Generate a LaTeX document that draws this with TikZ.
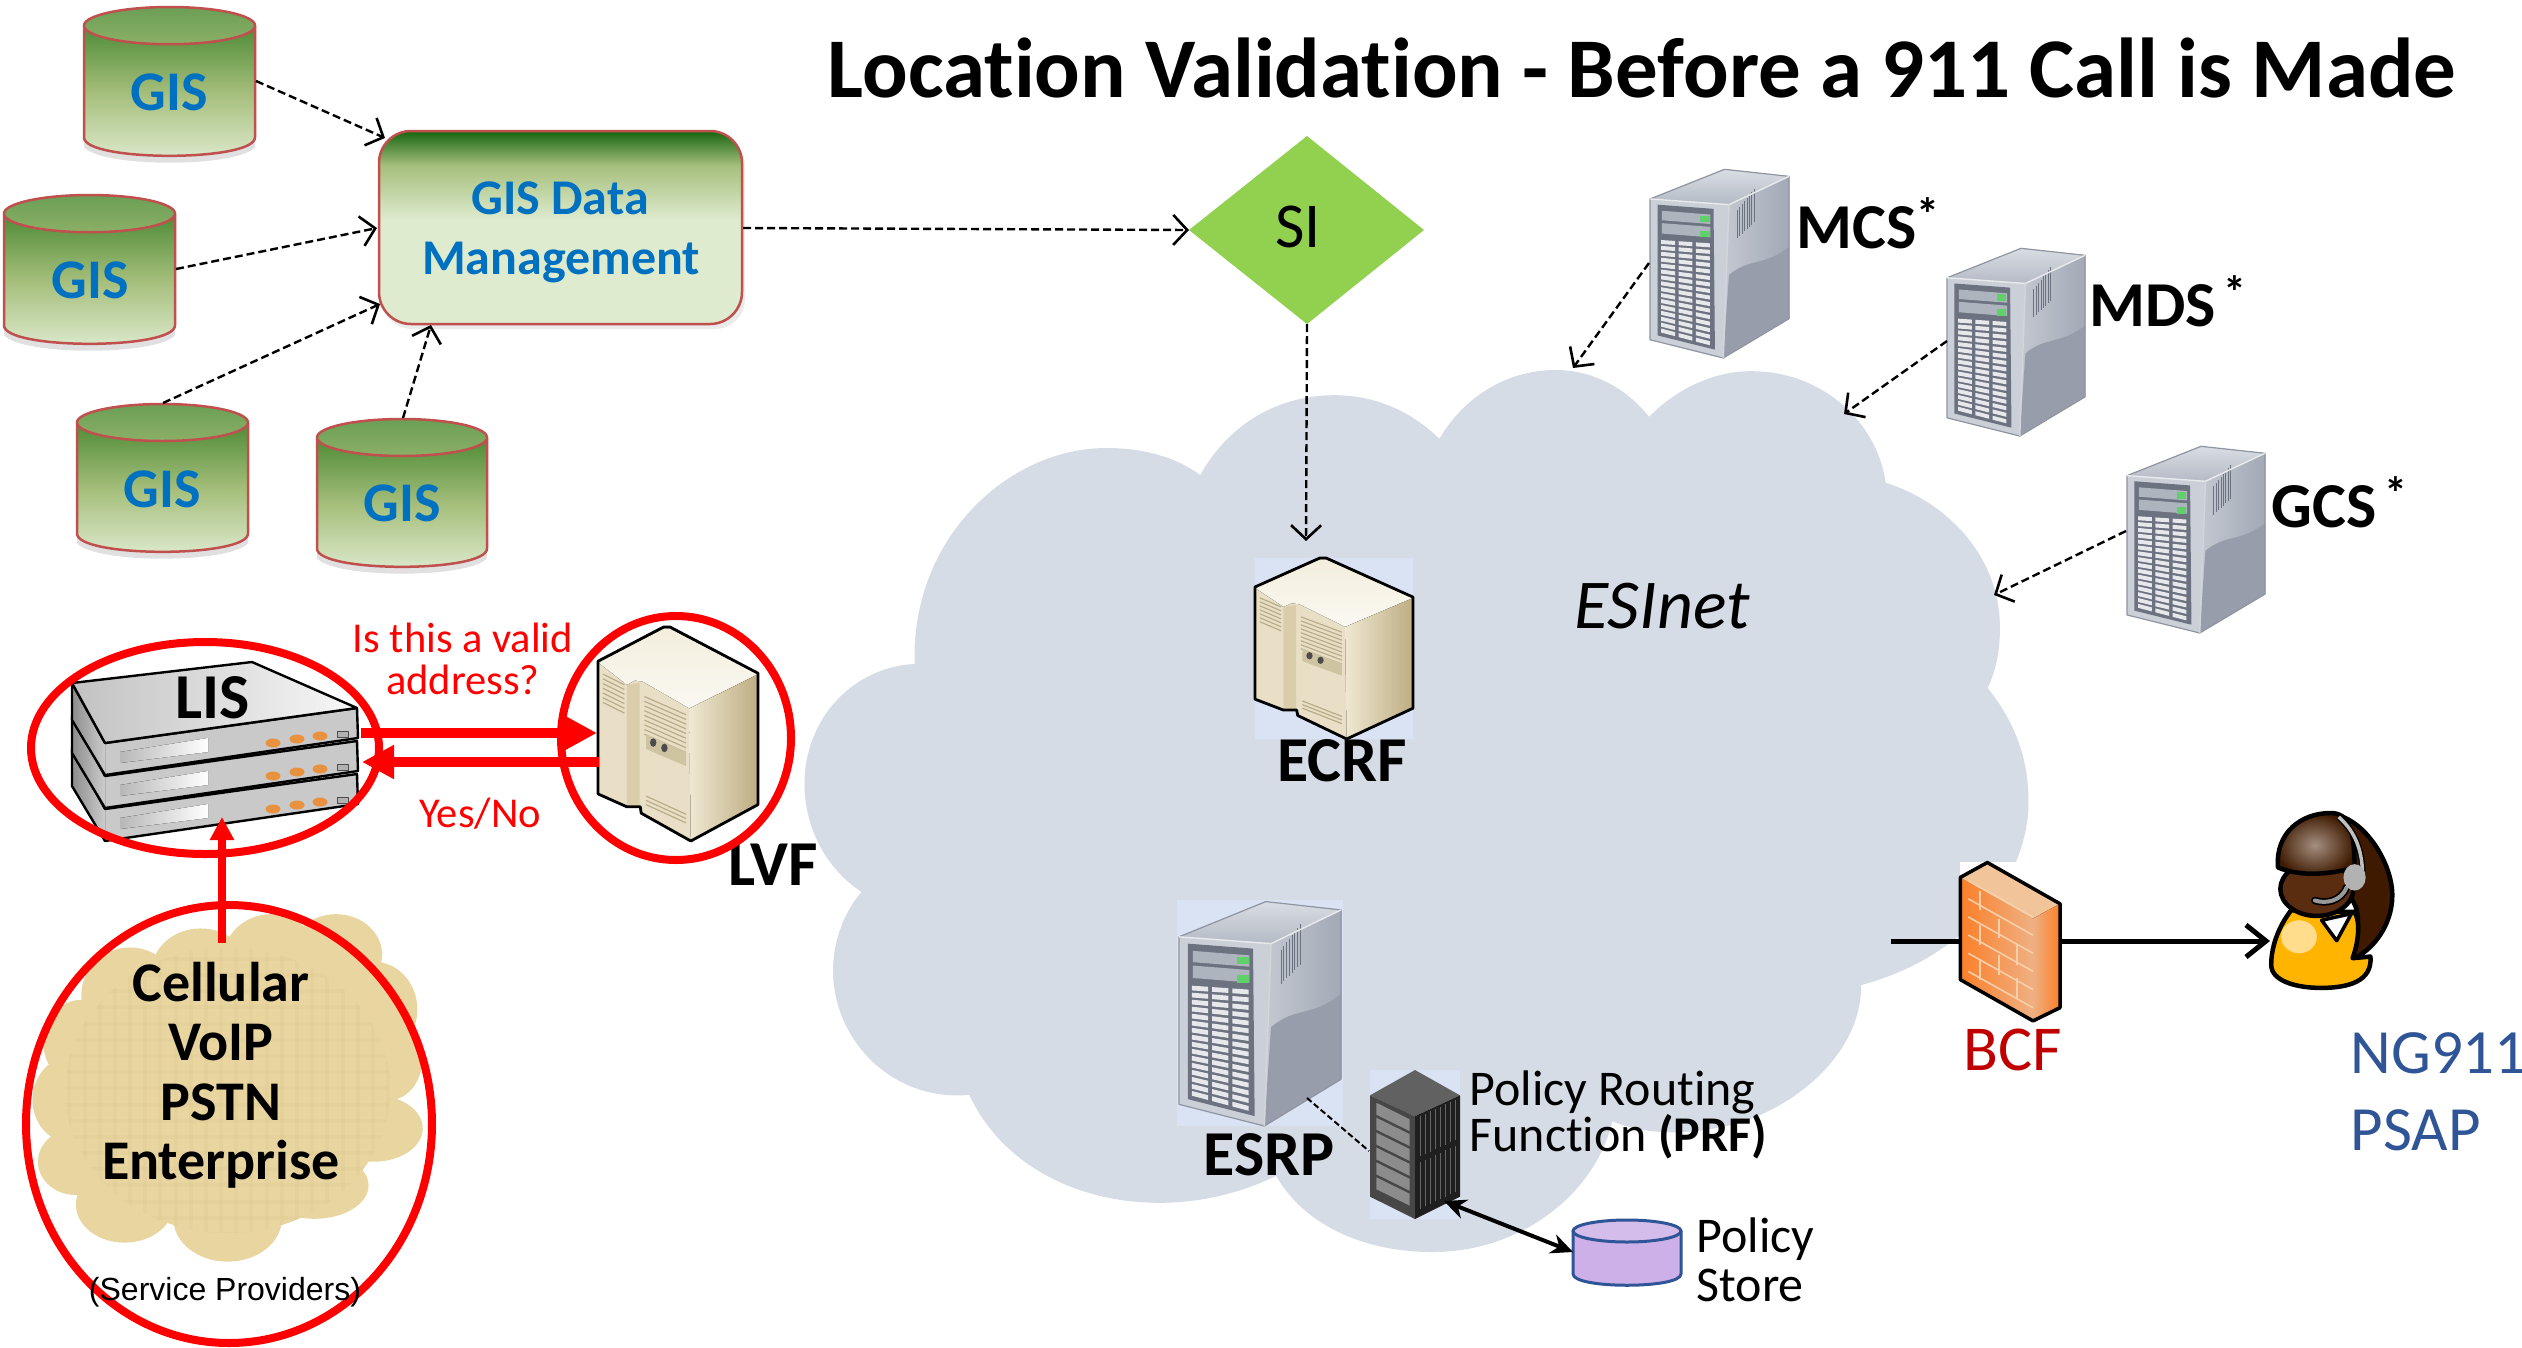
\documentclass[tikz,border=0pt]{standalone}
\usepackage{fontspec}
\setmainfont{Carlito}[Ligatures=CommonOff]
\newfontfamily\arialfont{Liberation Sans}
\usetikzlibrary{arrows.meta,calc}
\definecolor{cloudgrey}{HTML}{D6DCE5}
\definecolor{panelblue}{HTML}{DAE3F3}
\definecolor{gisred}{HTML}{C0504D}
\definecolor{gisblue}{HTML}{0070C0}
\definecolor{gisA}{HTML}{DEEBCF}
\definecolor{gisB}{HTML}{A6BF7C}
\definecolor{gisC}{HTML}{4E8B36}
\definecolor{gisD}{HTML}{176510}
\definecolor{navyblue}{HTML}{2F5597}
\definecolor{bcfred}{HTML}{C00000}
\definecolor{leafgreen}{HTML}{92D050}
\definecolor{parch}{HTML}{E8D5A0}
\definecolor{parchdark}{HTML}{B89A5A}
\definecolor{purplefill}{HTML}{CDB0E8}
\definecolor{twrTopA}{HTML}{D9DDE3}
\definecolor{twrTopB}{HTML}{B4BAC5}
\definecolor{twrSideA}{HTML}{C3C8D1}
\definecolor{twrSideB}{HTML}{A3A9B5}
\definecolor{twrLow}{HTML}{979DAA}
\definecolor{twrFront}{HTML}{CBD0D8}
\definecolor{twrFrame}{HTML}{6C7280}
\definecolor{twrSlot}{HTML}{AEB4BE}
\definecolor{twrCell}{HTML}{E6E8EC}
\definecolor{twrEdge}{HTML}{8F95A1}
\definecolor{twrLed}{HTML}{5FD06A}
\definecolor{begTop}{HTML}{F3EEDD}
\definecolor{begFront}{HTML}{E8DFC6}
\definecolor{begBand}{HTML}{D9CDAA}
\definecolor{begSideA}{HTML}{EFE8D3}
\definecolor{begSideB}{HTML}{BEAD82}
\definecolor{begSlat}{HTML}{B9AC88}
\definecolor{begPlate}{HTML}{CFC4A2}
\definecolor{hairdark}{HTML}{3F1A00}
\definecolor{hairlite}{HTML}{A58F80}
\definecolor{faceskin}{HTML}{5A2D10}
\definecolor{shirt}{HTML}{FFB400}
\definecolor{fwA}{HTML}{FB7F28}
\definecolor{fwB}{HTML}{EFB083}
\definecolor{fwTop}{HTML}{F2C49A}
\definecolor{fwBrick}{HTML}{F8CFA8}
\definecolor{lisOrange}{HTML}{E8923F}
\pgfdeclareverticalshading{gisbody}{100bp}{color(0bp)=(gisA); color(25bp)=(gisA); color(50bp)=(gisB); color(75bp)=(gisC); color(100bp)=(gisC)}
\pgfdeclareverticalshading{gisbox}{100bp}{color(0bp)=(gisA); color(52bp)=(gisA); color(66bp)=(gisB); color(75bp)=(gisD); color(100bp)=(gisD)}
\newcommand\fs[1]{\fontsize{#1}{#1}\selectfont}
\newcommand\starmark{\raisebox{.28em}{\fs{46}\bfseries *}}
\tikzset{
  dashlink/.style={draw=black,line width=2.4pt,dash pattern=on 8pt off 4pt,-{Straight Barb[length=14pt,width=30pt,line width=2.6pt]}},
  thinlink/.style={draw=black,line width=2pt,dash pattern=on 6pt off 3pt},
  redlink/.style={draw=red,line width=10pt,-{Triangle[length=32pt,width=32pt]}},
  redring/.style={draw=red,line width=8pt},
  title/.style={font=\bfseries\fs{85},anchor=base},
  gislabel/.style={font=\bfseries\fs{56},text=gisblue,anchor=base},
  boxlabel/.style={font=\bfseries\fs{50},text=gisblue,anchor=base},
  biglabel/.style={font=\bfseries\fs{64},text=black,anchor=base},
  cloudlabel/.style={font=\bfseries\fs{56},text=black,anchor=base},
  redlabel/.style={font=\fs{42.5},text=red,anchor=base},
  plainlabel/.style={font=\fs{50},text=black,anchor=base west},
  bluelabel/.style={font=\fs{63},text=navyblue,anchor=base west},
}
\newcommand\gisCyl[4]{%
 \begin{scope}[shift={(#1,#2)},x=#3pt,y=-#4pt]
  \fill[black,opacity=.12] (0,.90) .. controls (.1,1.04) and (.9,1.04) .. (1,.90) -- (1,.94) .. controls (.9,1.08) and (.1,1.08) .. (0,.94) -- cycle;
  \path[shade,shading=gisbody] (0,.125) .. controls (0,.25) and (1,.25) .. (1,.125) -- (1,.875) .. controls (1,1.04) and (0,1.04) .. (0,.875) -- cycle;
  \draw[gisred,line width=2.5pt] (0,.125) -- (0,.875) .. controls (0,1.04) and (1,1.04) .. (1,.875) -- (1,.125);
  \draw[gisred,line width=2.5pt,top color=gisC!80!gisA,bottom color=gisB!70!gisC] (.5,.125) ellipse [x radius=#3pt/2,y radius=#4pt/8];
 \end{scope}}
\newcommand\towerIcon[4]{%
 \begin{scope}[shift={(#1,#2)},x=#3pt,y=-#4pt]
  \fill[top color=twrTopA,bottom color=twrTopB] (0,.163) -- (.536,.007) -- (1,.044) -- (.568,.193) -- cycle;
  \fill[left color=twrSideA,right color=twrSideB] (.568,.193) -- (1,.044) -- (1,.793) -- (.527,1) -- cycle;
  \fill[twrLow] (.568,.563) .. controls (.72,.47) and (.82,.52) .. (1,.415) -- (1,.793) -- (.527,1) -- cycle;
  \fill[twrFront] (0,.163) -- (.568,.193) -- (.527,1) -- (0,.904) -- cycle;
  \fill[twrFrame] (.054,.193) -- (.457,.215) -- (.467,.956) -- (.054,.881) -- cycle;
  \fill[twrSlot] (.085,.225) -- (.435,.245) -- (.435,.295) -- (.085,.275) -- cycle;
  \fill[twrSlot] (.085,.29) -- (.435,.31) -- (.435,.365) -- (.085,.345) -- cycle;
  \fill[twrLed] (.36,.25) rectangle (.43,.285);
  \fill[twrLed] (.36,.33) rectangle (.43,.365);
  \foreach \r in {0,...,15}{\foreach \c in {0,1,2}{%
    \pgfmathsetmacro\xa{.08+.125*\c}\pgfmathsetmacro\xb{\xa+.1}%
    \pgfmathsetmacro\ya{.375+.05*\xa+\r*(.485+.15*\xa)/16}%
    \pgfmathsetmacro\yb{.375+.05*\xb+\r*(.485+.15*\xb)/16}%
    \pgfmathsetmacro\dy{.021}%
    \fill[twrCell] (\xa,\ya) -- (\xb,\yb) -- (\xb,\yb+\dy) -- (\xa,\ya+\dy) -- cycle;}}
  \foreach \v in {0,...,7}{\draw[twrFrame,line width=1pt] (.63+.017*\v,.2-.016*\v+.02) -- (.63+.017*\v,.37-.012*\v);}
  \draw[twrEdge,line width=1.2pt,line join=round] (0,.163) -- (.536,.007) -- (1,.044) -- (1,.793) -- (.527,1) -- (0,.904) -- cycle;
  \draw[white!80!twrEdge,line width=1.4pt] (0,.163) -- (.568,.193) -- (1,.044);
  \draw[white!60!twrEdge,line width=1.5pt] (.568,.193) -- (.527,1);
 \end{scope}}
\newcommand\beigeIcon[4]{%
 \begin{scope}[shift={(#1,#2)},x=#3pt,y=-#4pt]
  \fill[begFront] (0,.16) -- (.41,0) -- (.45,0) -- (1,.216) -- (1,.83) -- (.58,1) -- (.27,.87) -- (.264,.84) -- (.18,.84) -- (0,.78) -- cycle;
  \fill[left color=begSideA,right color=begSideB] (.57,.38) -- (1,.22) -- (1,.83) -- (.58,1) -- cycle;
  \fill[top color=begTop,bottom color=white!60!begTop] (0,.165) -- (.41,.008) -- (.45,.008) -- (1,.22) -- (.57,.38) -- (.28,.255) -- (.23,.25) -- (.18,.27) -- cycle;
  \fill[begBand] (.18,.27) -- (.26,.26) -- (.26,.84) -- (.18,.84) -- cycle;
  \foreach \v in {0,...,6}{\draw[begSlat,line width=1.2pt] (.03,.22+.022*\v) -- (.165,.27+.022*\v);}
  \foreach \v in {0,...,8}{\draw[begSlat,line width=1.2pt] (.29,.325+.022*\v) -- (.55,.41+.022*\v);}
  \fill[begPlate] (.3,.5) -- (.55,.585) -- (.55,.65) -- (.3,.57) -- cycle;
  \fill[black!70] (.345,.54) circle [radius=.02];
  \fill[black!70] (.415,.565) circle [radius=.02];
  \foreach \v in {0,1,2}{\draw[begSlat,line width=1.2pt] (.3,.79+.02*\v) -- (.55,.875+.02*\v);}
  \draw[black,line width=2.8pt] (0,.16) -- (.41,0) -- (.45,0) -- (1,.216) -- (1,.83) -- (.58,1) -- (.27,.87) -- (.264,.84) -- (.18,.84) -- (0,.78) -- cycle;
 \end{scope}}
\begin{document}
\begin{tikzpicture}[x=1pt,y=-1pt,line join=round]
\useasboundingbox (0,0) rectangle (2522,1347);
\fill[white] (0,0) rectangle (2522,1347);
% ESInet cloud
\begin{scope}[shift={(780,340)},x=.816pt,y=-.6pt]
\fill[cloudgrey] (515,225) .. controls (550,140) and (610,92) .. (680,92) .. controls (730,92) and (775,120) .. (808,165)
 .. controls (840,90) and (895,50) .. (950,50) .. controls (1000,50) and (1040,85) .. (1065,128)
 .. controls (1100,80) and (1145,52) .. (1190,52) .. controls (1280,52) and (1345,140) .. (1355,238)
 .. controls (1430,270) and (1495,360) .. (1495,480) .. controls (1495,520) and (1490,550) .. (1480,580)
 .. controls (1515,640) and (1530,700) .. (1530,770) .. controls (1530,900) and (1450,1030) .. (1325,1075)
 .. controls (1325,1200) and (1230,1290) .. (1160,1310) .. controls (1110,1325) and (1060,1325) .. (1020,1302)
 .. controls (1000,1420) and (910,1520) .. (800,1520) .. controls (710,1520) and (640,1470) .. (608,1393)
 .. controls (560,1425) and (510,1438) .. (465,1438) .. controls (360,1438) and (270,1370) .. (232,1258)
 .. controls (140,1270) and (65,1170) .. (65,1050) .. controls (65,1000) and (80,950) .. (100,920)
 .. controls (55,880) and (30,810) .. (30,740) .. controls (30,630) and (90,545) .. (165,540)
 .. controls (160,330) and (280,180) .. (400,180) .. controls (445,180) and (485,195) .. (515,225) -- cycle;
\end{scope}
% GIS group
\gisCyl{84}{7}{171}{149}
\gisCyl{4}{195}{171}{149}
\gisCyl{77}{404}{171}{148}
\gisCyl{317}{419}{170}{148}
\node[gislabel] (g1) at (169,110) {GIS};
\node[gislabel] (g2) at (90,298) {GIS};
\node[gislabel] (g3) at (162,507) {GIS};
\node[gislabel] (g4) at (402,521) {GIS};
\fill[black,opacity=.08,rounded corners=30pt] (382,136) rectangle (745,329);
\path[shade,shading=gisbox,rounded corners=32pt] (379,131) rectangle (742,324);
\draw[gisred,line width=2.5pt,rounded corners=32pt] (379,131) rectangle (742,324);
\node[boxlabel] (m1) at (560,214) {GIS Data};
\node[boxlabel] (m2) at (561,274) {Management};
\coordinate (g1out) at (256,81); \coordinate (mIn1) at (385,138);
\coordinate (g2out) at (176,269); \coordinate (mIn2) at (377,228);
\coordinate (g3out) at (163,403); \coordinate (mIn3) at (380,304);
\coordinate (g4out) at (403,418); \coordinate (mIn4) at (431,325);
\coordinate (mOut) at (743,228);
\draw[dashlink] (g1out) -- (mIn1);
\draw[dashlink] (g2out) -- (mIn2);
\draw[dashlink] (g3out) -- (mIn3);
\draw[dashlink] (g4out) -- (mIn4);
% SI
\fill[leafgreen] (1189,230) coordinate (siW) -- (1307,136) -- (1424,230) -- (1307,324) coordinate (siS) -- cycle;
\node[font=\fs{64},anchor=base] (si) at (1298,247) {SI};
\draw[dashlink] (mOut) -- (siW);
% ECRF
\fill[panelblue] (1255,558) rectangle (1413,739);
\beigeIcon{1255}{558}{158}{181}
\node[biglabel] (ecrf) at (1342,781) {ECRF};
\coordinate (ecrfIn) at (1306,541);
\draw[dashlink] (siS) -- (ecrfIn);
% right servers
\towerIcon{1650}{168}{139}{190}
\towerIcon{1947}{247}{138}{189}
\towerIcon{2127}{445}{138}{188}
\node[font=\bfseries\fs{64},anchor=base west] (mcs) at (1793,248) {MCS\starmark};
\node[font=\bfseries\fs{64},anchor=base west] (mds) at (2086,326) {MDS\hspace{.12em}\starmark};
\node[font=\bfseries\fs{64},anchor=base west] (gcs) at (2268,527) {GCS\hspace{.12em}\starmark};
\coordinate (mcsOut) at (1649,263); \coordinate (cloudA) at (1573,368);
\coordinate (mdsOut) at (1947,341); \coordinate (cloudB) at (1844,414);
\coordinate (gcsOut) at (2126,531); \coordinate (cloudC) at (1994,595);
\draw[dashlink] (mcsOut) -- (cloudA);
\draw[dashlink] (mdsOut) -- (cloudB);
\draw[dashlink] (gcsOut) -- (cloudC);
\node[font=\itshape\fs{70},anchor=base] (esinet) at (1662,628) {ESInet};
% ESRP
\fill[panelblue] (1177,900) rectangle (1343,1126);
\towerIcon{1179}{900}{162}{226}
\node[biglabel] (esrp) at (1269,1175) {ESRP};
% PRF rack
\fill[panelblue] (1370,1070) rectangle (1460,1219);
\begin{scope}[shift={(1370,1070)},x=90pt,y=-149pt]
 \fill[black!62] (.5,0) -- (1,.17) -- (.5,.31) -- (0,.17) -- cycle;
 \fill[black!72] (0,.17) -- (.5,.31) -- (.5,1) -- (0,.85) -- cycle;
 \fill[black!88] (.5,.31) -- (1,.17) -- (1,.85) -- (.5,1) -- cycle;
 \foreach \v in {0,...,5}{\fill[black!45] (.07,.22+.1*\v) -- (.44,.33+.1*\v) -- (.44,.41+.1*\v) -- (.07,.30+.1*\v) -- cycle;}
 \foreach \v in {0,...,7}{\draw[black!60,line width=1pt] (.56+.055*\v,.31-.016*\v) -- (.56+.055*\v,.58-.016*\v);
   \draw[black!60,line width=1pt] (.56+.055*\v,.62-.016*\v) -- (.56+.055*\v,.93-.016*\v);}
\end{scope}
\coordinate (esrpOut) at (1307,1098); \coordinate (prfIn) at (1369,1151);
\draw[thinlink] (esrpOut) -- (prfIn);
\node[plainlabel] (prf1) at (1466,1105) {Policy Routing};
\node[plainlabel] (prf2) at (1466,1151) {Function \textbf{(PRF)}};
% Policy store
\draw[navyblue,line width=3pt,fill=purplefill] (1573,1231) -- (1573,1274) .. controls (1573,1289) and (1681,1289) .. (1681,1274) -- (1681,1231) -- cycle;
\draw[navyblue,line width=3pt,fill=purplefill!85!white] (1627,1231) ellipse [x radius=54pt,y radius=11pt];
\node[plainlabel] (ps1) at (1693,1252) {Policy};
\node[plainlabel] (ps2) at (1693,1301) {Store};
\coordinate (prfOut) at (1444,1201); \coordinate (psIn) at (1573,1252);
\draw[line width=4pt,{Stealth[length=22pt,width=20pt]}-{Stealth[length=22pt,width=20pt]}] (prfOut) -- (psIn);
% BCF and PSAP
\fill[white] (1960,862) rectangle (2020,900);
\coordinate (lineA) at (1891,941); \coordinate (fwIn) at (1960,941);
\coordinate (fwOut) at (2060,941); \coordinate (psapIn) at (2270,941);
\draw[line width=5pt] (lineA) -- (fwIn);
\draw[line width=5pt,-{Straight Barb[length=20pt,width=32pt,line width=5pt]}] (fwOut) -- (psapIn);
\begin{scope}[shift={(1900,780)},x=.397pt,y=-.33pt]
 \fill[left color=fwA,right color=fwB] (152,295) -- (335,420) -- (335,730) -- (152,605) -- cycle;
 \fill[fwTop] (152,295) -- (220,250) -- (403,375) -- (335,420) -- cycle;
 \fill[left color=fwB,right color=fwA] (335,420) -- (403,375) -- (403,690) -- (335,730) -- cycle;
 \foreach \d in {0,55,110,165,220,275}{\draw[fwBrick,line width=1.6pt] (172,305+\d) -- (335,415+\d);}
 \draw[fwBrick,line width=1.6pt] (202,335) -- (202,395) (250,420) -- (250,480) (295,500) -- (295,560) (202,440) -- (202,500) (250,530) -- (250,590) (202,545) -- (202,605) (295,600) -- (295,660);
 \draw[black,line width=3.5pt] (152,295) -- (220,250) -- (403,375) -- (403,690) -- (335,730) -- (152,605) -- cycle;
 % operator
 \draw[black,line width=4.5pt,fill=hairdark] (1095,105) .. controls (1170,120) and (1240,250) .. (1240,350) .. controls (1240,440) and (1190,520) .. (1135,545) .. controls (1150,480) and (1170,400) .. (1130,350) -- cycle;
 \draw[black,line width=4.5pt,fill=shirt] (985,395) .. controls (950,450) and (935,510) .. (935,560) .. controls (935,610) and (1000,630) .. (1060,630) .. controls (1130,630) and (1190,610) .. (1185,535) -- (1140,540) .. controls (1155,490) and (1160,430) .. (1145,400) -- cycle;
 \fill[white,opacity=.55] (1005,475) ellipse [x radius=45pt*.397,y radius=50pt*.33];
 \draw[black,line width=3.5pt,fill=white] (1062,425) -- (1100,487) -- (1137,405) -- cycle;
 \draw[black,line width=4.5pt,fill=faceskin] (1050,330) ellipse [x radius=92pt*.397,y radius=82pt*.33];
 \draw[black,line width=4.5pt,inner color=hairlite,outer color=hairdark] (952,265) .. controls (945,160) and (1010,100) .. (1085,100) .. controls (1130,100) and (1145,150) .. (1145,265) .. controls (1090,285) and (1010,295) .. (952,265) -- cycle;
 \draw[black,line width=6pt] (1105,112) .. controls (1150,160) and (1165,220) .. (1165,290);
 \draw[black!25,line width=3.5pt] (1105,112) .. controls (1150,160) and (1165,220) .. (1165,290);
 \draw[black,line width=7.5pt,line cap=round] (1125,325) .. controls (1110,370) and (1070,375) .. (1045,365);
 \draw[black!40,line width=4pt,line cap=round] (1125,325) .. controls (1110,370) and (1070,375) .. (1045,365);
 \fill[black!30] (1145,295) ellipse [x radius=28pt*.397,y radius=40pt*.33];
\end{scope}
\node[font=\fs{64},text=bcfred,anchor=base] (bcf) at (2013,1070) {BCF};
\node[bluelabel] (ng) at (2347,1073) {NG911};
\node[bluelabel] (psap) at (2347,1150) {PSAP};
% Title
\node[title] (ttl) at (1642,97) {Location Validation - Before a 911 Call is Made};
% service provider cloud
\begin{scope}[shift={(0,600)},x=.542pt,y=-.476pt]
 \fill[parch] (420,1030) ellipse [x radius=300*.542pt,y radius=300*.476pt];
 \foreach \cx/\cy/\rx/\ry in {500/760/90/100,620/745/85/85,690/860/80/100,370/780/90/90,240/830/90/100,150/930/70/90,130/1050/70/90,140/1180/70/70,230/1270/90/80,420/1300/100/90,580/1230/100/70,690/1110/90/70,720/960/60/90}{
  \fill[parch] (\cx,\cy) ellipse [x radius=\rx*.542pt,y radius=\ry*.476pt];}
 \begin{scope}
  \clip (420,1030) ellipse [x radius=300*.542pt,y radius=300*.476pt];
  \foreach \g in {0,28,...,700}{\draw[parchdark,opacity=.06,line width=4pt] (100+\g,720) -- (100+\g,1340);}
  \foreach \g in {0,34,...,640}{\draw[parchdark,opacity=.05,line width=4pt] (100,720+\g) -- (740,720+\g);}
 \end{scope}
\end{scope}
% LIS stack
\foreach \d in {66,33,0}{
  \fill[black!21] (105,743+\d) -- (357,708+\d) -- (358,738+\d) -- (105,775+\d) -- cycle;
  \fill[left color=black!45,right color=black!20] (72,683+\d) -- (105,743+\d) -- (105,775+\d) -- (72,720+\d) -- cycle;
  \draw[black,line width=2.4pt] (72,683+\d) -- (105,743+\d) -- (357,708+\d) -- (358,738+\d) -- (105,775+\d) -- (72,720+\d) -- cycle;
  \fill[left color=black!28,right color=white] (120,752+\d) -- (208,738+\d) -- (208,752+\d) -- (120,763+\d) -- cycle;
  \fill[lisOrange] (273,743+\d) ellipse [x radius=7.5pt,y radius=4.5pt];
  \fill[lisOrange] (297,739+\d) ellipse [x radius=7.5pt,y radius=4.5pt];
  \fill[lisOrange] (320,736+\d) ellipse [x radius=7.5pt,y radius=4.5pt];
  \draw[black!70,line width=1pt,fill=black!30] (337,731+\d) rectangle (348,737+\d);
}
\draw[black,line width=2.4pt,left color=black!24,right color=black!3] (72,683) -- (252,662) -- (357,708) -- (105,743) -- cycle;
\node[biglabel] (lis) at (213,718) {LIS};
\beigeIcon{598}{627}{160}{214}
\node[redlabel] (q1) at (463,652) {Is this a valid};
\node[redlabel] (q2) at (463,694) {address?};
\node[redlabel] (yn) at (480,827) {Yes/No};
\node[biglabel] (lvf) at (773,885) {LVF};
\coordinate (lisE1) at (361,733); \coordinate (lvfW1) at (597,733);
\coordinate (lvfW2) at (599,762); \coordinate (lisE2) at (362,762);
\coordinate (provOut) at (222,943); \coordinate (lisS) at (222,817);
\draw[redlink] (lisE1) -- (lvfW1);
\draw[redlink] (lvfW2) -- (lisE2);
\draw[draw=red,line width=8pt,-{Triangle[length=23pt,width=23pt]}] (provOut) -- (lisS);
\draw[redring] (205,748) ellipse [x radius=174pt,y radius=106pt];
\draw[redring] (676,738) ellipse [x radius=115pt,y radius=122pt];
\draw[redring] (229,1124) ellipse [x radius=203pt,y radius=219pt];
\node[cloudlabel] (c1) at (221,1001) {Cellular};
\node[cloudlabel] (c2) at (221,1060) {VoIP};
\node[cloudlabel] (c3) at (221,1120) {PSTN};
\node[cloudlabel] (c4) at (221,1179) {Enterprise};
\node[font=\arialfont\fs{32},anchor=base] (sp) at (225,1300) {(Service Providers)};
\end{tikzpicture}
\end{document}
